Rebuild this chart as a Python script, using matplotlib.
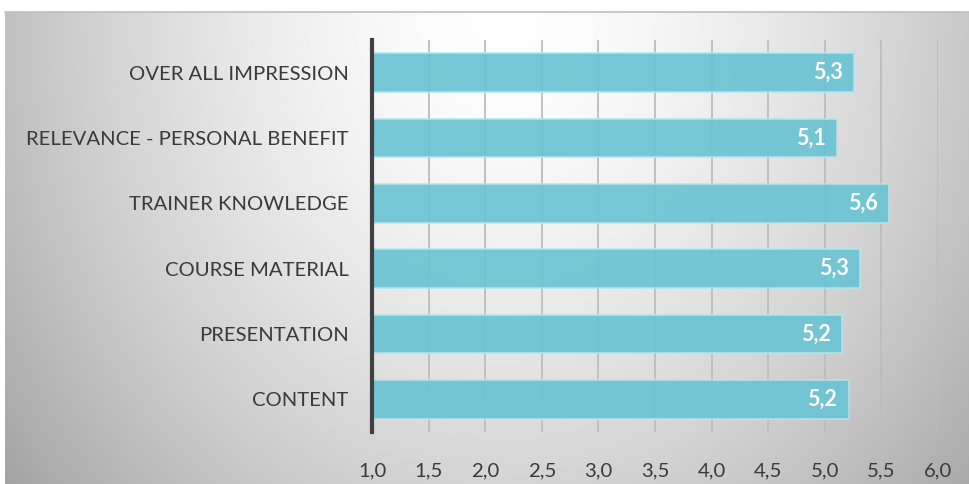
import matplotlib.pyplot as plt
import numpy as np

# data
categories = ['CONTENT', 'PRESENTATION', 'COURSE MATERIAL', 'TRAINER KNOWLEDGE',
              'RELEVANCE - PERSONAL BENEFIT', 'OVER ALL IMPRESSION']
values = [5.21, 5.15, 5.31, 5.57, 5.11, 5.26]
labels = ['5,2', '5,2', '5,3', '5,6', '5,1', '5,3']
xticks = [1.0, 1.5, 2.0, 2.5, 3.0, 3.5, 4.0, 4.5, 5.0, 5.5, 6.0]

W, H = 970, 484
fig = plt.figure(figsize=(W / 100, H / 100), dpi=100)

# fond gris avec dégradé radial
bg = fig.add_axes([5 / W, 0, 1 - 5 / W, 1 - 12 / H])
yy, xx = np.mgrid[0:472, 0:965]
d = np.sqrt(((xx - 500) / 520.0) ** 2 + (yy / 620.0) ** 2)
shade = 1.0 - 0.26 * np.clip(d, 0, 1.3) ** 1.6
bg.imshow(np.dstack([shade] * 3), aspect='auto', extent=[0, 1, 0, 1], origin='upper')
bg.set_axis_off()
fig.add_artist(plt.Line2D([5 / W, 1], [1 - 12 / H, 1 - 12 / H], color='#bfbfbf', lw=1.2))

# axes principal
x0, x1 = 372, 938
top, bottom = 40, 432
ax = fig.add_axes([x0 / W, 1 - bottom / H, (x1 - x0) / W, (bottom - top) / H])
ax.patch.set_alpha(0)
y = np.arange(len(categories))
ax.barh(y, [v - 1.0 for v in values], left=1.0, height=0.59, color='#6cc4d3',
        edgecolor='#b4e4ec', linewidth=1.2, alpha=0.93, zorder=2)
for yi, v, lab in zip(y, values, labels):
    ax.text(v - 0.1, yi, lab, ha='right', va='center', color='white',
            fontsize=15.5, fontweight='bold', family='Lato', zorder=3)

ax.set_xlim(1.0, 6.0)
ax.set_ylim(-0.5, len(categories) - 0.5)
ax.set_xticks(xticks)
ax.set_xticklabels([f'{t:.1f}'.replace('.', ',') for t in xticks])
ax.set_yticks(y)
ax.set_yticklabels(categories)
ax.grid(axis='x', color='#bdbdbd', lw=1.3, zorder=1)
ax.set_axisbelow(True)
for s in ['top', 'right', 'bottom']:
    ax.spines[s].set_visible(False)
ax.spines['left'].set_color('#404040')
ax.spines['left'].set_linewidth(3)
ax.tick_params(axis='y', length=0, pad=17, labelsize=14.6, labelcolor='#3a3a3a')
ax.tick_params(axis='x', length=0, pad=22, labelsize=14.6, labelcolor='#3a3a3a')
for t in ax.get_xticklabels() + ax.get_yticklabels():
    t.set_family('Lato')

fig.savefig('out.png', dpi=100)
